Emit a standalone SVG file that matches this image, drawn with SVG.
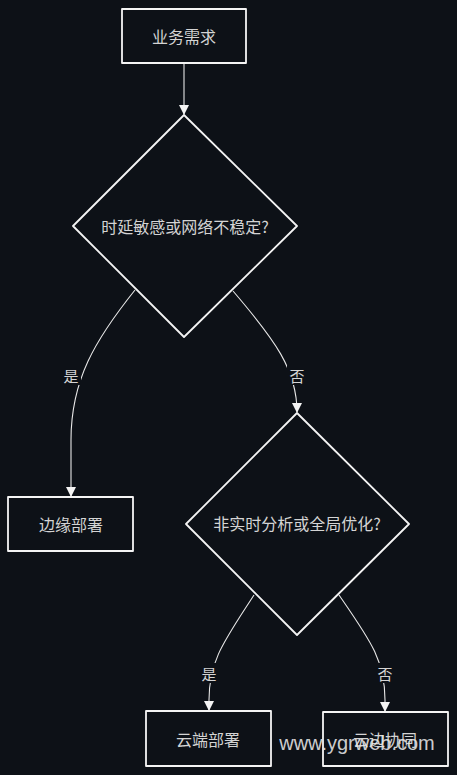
<svg xmlns="http://www.w3.org/2000/svg" width="457" height="775" viewBox="0 0 457 775">
<style>
.node{fill:#0d1117;stroke:#f4f4f4;stroke-width:1.8;stroke-linejoin:round}
.lbl{font-family:"Noto Sans CJK SC","Liberation Sans",sans-serif;font-size:16px;fill:#d4d4d4;text-anchor:middle;dominant-baseline:central}
.edge{fill:none;stroke:#e8e8e8;stroke-width:1.1}
.elbl{font-family:"Noto Sans CJK SC","Liberation Sans",sans-serif;font-size:15px;fill:#d4d4d4;text-anchor:middle;dominant-baseline:central}
.lbg{fill:#0d1117}
</style>
<defs>
<marker id="arr" viewBox="0 0 10 10" refX="9" refY="5" markerWidth="10" markerHeight="10" markerUnits="userSpaceOnUse" orient="auto">
<path d="M0,0 L10,5 L0,10 z" fill="#f4f4f4"/>
</marker>
</defs>
<rect width="457" height="775" fill="#0d1117"/>
<g id="connectors">
<path class="edge" d="M184,63 L184,114" marker-end="url(#arr)"/>
<path class="edge" d="M135,290 C95,340 71,380 71,440 L71,496" marker-end="url(#arr)"/>
<path class="edge" d="M233,291 C275,340 297,370 297,412" marker-end="url(#arr)"/>
<path class="edge" d="M254,595 C225,640 209,660 209,700 L209,710" marker-end="url(#arr)"/>
<path class="edge" d="M339,595 C370,640 385,660 385,700 L385,711" marker-end="url(#arr)"/>
<rect class="lbg" x="61" y="365" width="20" height="20"/>
<text class="elbl" x="71" y="375">是</text>
<rect class="lbg" x="287" y="365" width="20" height="20"/>
<text class="elbl" x="297" y="375">否</text>
<rect class="lbg" x="199" y="663" width="20" height="20"/>
<text class="elbl" x="209" y="673">是</text>
<rect class="lbg" x="375" y="663" width="20" height="20"/>
<text class="elbl" x="385" y="673">否</text>
</g>
<g id="n1">
<rect class="node" x="122" y="9" width="124" height="54"/>
<text class="lbl" x="184" y="36">业务需求</text>
</g>
<g id="n2">
<polygon class="node" points="184,115 297,226 184,337 73,226"/>
<text class="lbl" x="185" y="226">时延敏感或网络不稳定?</text>
</g>
<g id="n3">
<rect class="node" x="8" y="497" width="125" height="54"/>
<text class="lbl" x="71" y="524">边缘部署</text>
</g>
<g id="n4">
<polygon class="node" points="297,413 409,524 297,635 186,524"/>
<text class="lbl" x="297" y="523">非实时分析或全局优化?</text>
</g>
<g id="n5">
<rect class="node" x="146" y="711" width="125" height="55"/>
<text class="lbl" x="208" y="739">云端部署</text>
</g>
<g id="n6">
<rect class="node" x="323" y="712" width="125" height="54"/>
<text class="lbl" x="385" y="739">云边协同</text>
</g>
<text x="357" y="743" font-family="Liberation Sans, Arial, sans-serif" font-size="20" fill="#e6e6e6" fill-opacity="0.9" text-anchor="middle" dominant-baseline="central">www.ygrweb.com</text>
</svg>
